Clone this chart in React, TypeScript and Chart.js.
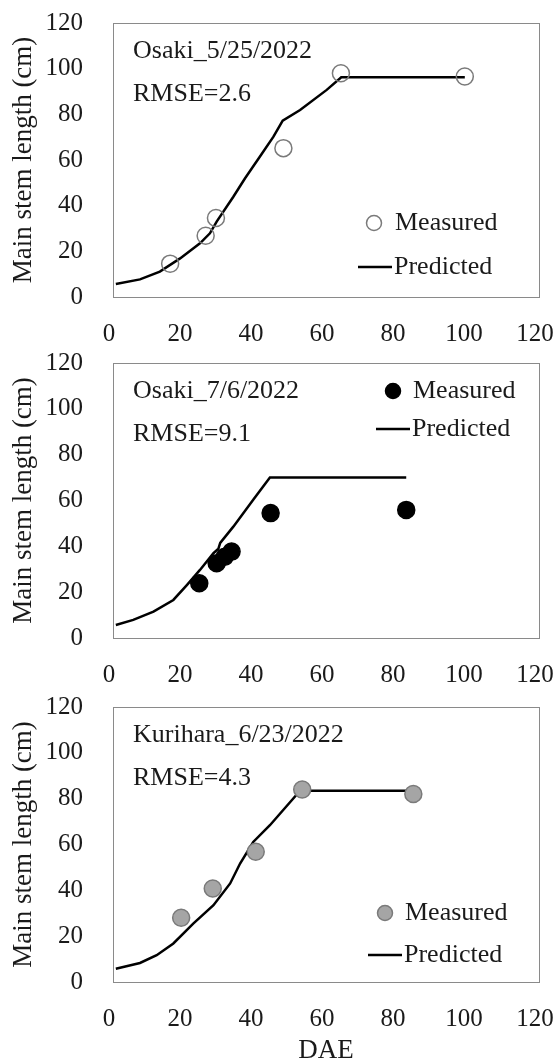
import React, { useEffect, useRef } from "react";
import { Chart, registerables } from "chart.js";

Chart.register(...registerables);

// Panel 1: Osaki_5/25/2022
const p1MeasuredX = [16.1, 26.1, 29.0, 48.0, 64.2, 99.1];
const p1MeasuredY = [14.6, 26.8, 34.6, 65.2, 98.0, 96.6];
const p1PredX = [0.8, 7.6, 13.2, 18.9, 24.5, 27.3, 29.2, 33.9, 37.2, 41.4, 45.2, 47.8, 52.7, 60.2, 64.3, 99.1];
const p1PredY = [5.7, 7.7, 11.1, 16.9, 23.5, 27.9, 33.0, 43.9, 52.0, 61.5, 70.2, 77.2, 81.9, 90.7, 96.2, 96.2];

// Panel 2: Osaki_7/6/2022
const p2MeasuredX = [24.3, 29.2, 31.5, 33.4, 44.4, 82.6];
const p2MeasuredY = [23.9, 32.6, 35.5, 37.7, 54.5, 55.9];
const p2PredX = [0.8, 5.7, 11.4, 17.0, 20.8, 24.5, 28.3, 29.7, 30.2, 33.9, 39.5, 44.2, 82.6];
const p2PredY = [5.7, 7.9, 11.5, 16.6, 23.1, 29.7, 37.0, 39.0, 41.5, 48.6, 60.3, 70.0, 70.0];

// Panel 3: Kurihara_6/23/2022
const p3MeasuredX = [19.2, 28.1, 40.2, 53.3, 84.6];
const p3MeasuredY = [28.0, 40.8, 56.8, 84.0, 82.0];
const p3PredX = [0.8, 7.6, 12.3, 17.0, 22.6, 28.3, 33.0, 35.8, 39.5, 44.2, 52.7, 84.6];
const p3PredY = [5.8, 8.3, 11.7, 16.8, 25.5, 33.5, 43.0, 51.7, 61.1, 68.4, 83.5, 83.5];

const xTicks = [0, 20, 40, 60, 80, 100, 120];
const yTicks = [0, 20, 40, 60, 80, 100, 120];

const titles = ["Osaki_5/25/2022", "Osaki_7/6/2022", "Kurihara_6/23/2022"];
const rmseLabels = ["RMSE=2.6", "RMSE=9.1", "RMSE=4.3"];
const legendLabels = ["Measured", "Predicted"];
const yTitle = "Main stem length (cm)";
const xTitle = "DAE";

const FONT = '"Liberation Serif", "Times New Roman", serif';
const TEXT = "#1a1a1a";

type PanelCfg = {
  top: number;
  height: number;
  boxH: number;
  mx: number[];
  my: number[];
  px: number[];
  py: number[];
  markerFill: string;
  markerStroke: string;
  hollow: boolean;
  title: string;
  rmse: string;
  legMarker: [number, number];
  legText1: number;
  legLine: [number, number, number];
  legText2: number;
  showXTitle: boolean;
};

const panels: PanelCfg[] = [
  {
    top: 0, height: 352, boxH: 274,
    mx: p1MeasuredX, my: p1MeasuredY, px: p1PredX, py: p1PredY,
    markerFill: "rgba(255,255,255,0)", markerStroke: "#7a7a7a", hollow: true,
    title: titles[0], rmse: rmseLabels[0],
    legMarker: [261, 200], legText1: 282, legLine: [245, 279, 244], legText2: 281,
    showXTitle: false,
  },
  {
    top: 340, height: 352, boxH: 275,
    mx: p2MeasuredX, my: p2MeasuredY, px: p2PredX, py: p2PredY,
    markerFill: "#000000", markerStroke: "#000000", hollow: false,
    title: titles[1], rmse: rmseLabels[1],
    legMarker: [280, 28], legText1: 300, legLine: [263, 297, 66], legText2: 299,
    showXTitle: false,
  },
  {
    top: 684, height: 374, boxH: 275,
    mx: p3MeasuredX, my: p3MeasuredY, px: p3PredX, py: p3PredY,
    markerFill: "#a5a5a5", markerStroke: "#7a7a7a", hollow: false,
    title: titles[2], rmse: rmseLabels[2],
    legMarker: [272, 206], legText1: 292, legLine: [255, 289, 248], legText2: 291,
    showXTitle: true,
  },
];

function Panel({ cfg }: { cfg: PanelCfg }) {
  const ref = useRef<HTMLCanvasElement | null>(null);
  useEffect(() => {
    if (!ref.current) return;
    const decor = {
      id: "decor",
      afterDraw(chart: any) {
        const ctx = chart.ctx as CanvasRenderingContext2D;
        const a = chart.chartArea;
        ctx.save();
        // box
        ctx.strokeStyle = "#8a8a8a";
        ctx.lineWidth = 1;
        ctx.strokeRect(Math.round(a.left) + 0.5, Math.round(a.top) + 0.5, Math.round(a.right - a.left), Math.round(a.bottom - a.top));
        // annotations
        ctx.fillStyle = TEXT;
        ctx.font = `26px ${FONT}`;
        ctx.textBaseline = "middle";
        ctx.textAlign = "left";
        ctx.fillText(cfg.title, a.left + 20, a.top + 28);
        ctx.fillText(cfg.rmse, a.left + 20, a.top + 71);
        // legend
        ctx.beginPath();
        ctx.arc(a.left + cfg.legMarker[0], a.top + cfg.legMarker[1], 7.5, 0, Math.PI * 2);
        if (!cfg.hollow) {
          ctx.fillStyle = cfg.markerFill;
          ctx.fill();
        }
        ctx.strokeStyle = cfg.markerStroke;
        ctx.lineWidth = 1.5;
        ctx.stroke();
        ctx.fillStyle = TEXT;
        ctx.fillText(legendLabels[0], a.left + cfg.legText1, a.top + cfg.legMarker[1]);
        ctx.beginPath();
        ctx.moveTo(a.left + cfg.legLine[0], a.top + cfg.legLine[2]);
        ctx.lineTo(a.left + cfg.legLine[1], a.top + cfg.legLine[2]);
        ctx.strokeStyle = "#000";
        ctx.lineWidth = 2.5;
        ctx.stroke();
        ctx.fillText(legendLabels[1], a.left + cfg.legText2, a.top + cfg.legLine[2]);
        // y title
        ctx.save();
        ctx.translate(24, (a.top + a.bottom) / 2);
        ctx.rotate(-Math.PI / 2);
        ctx.textAlign = "center";
        ctx.font = `27px ${FONT}`;
        ctx.fillText(yTitle, 0, 0);
        ctx.restore();
        if (cfg.showXTitle) {
          ctx.textAlign = "center";
          ctx.font = `27px ${FONT}`;
          ctx.fillText(xTitle, (a.left + a.right) / 2, a.bottom + 69);
        }
        ctx.restore();
      },
    };
    const chart = new Chart(ref.current, {
      type: "scatter",
      data: {
        datasets: [
          {
            label: legendLabels[0],
            data: cfg.mx.map((x, i) => ({ x, y: cfg.my[i] })),
            showLine: false,
            pointRadius: 8.5,
            pointBackgroundColor: cfg.markerFill,
            pointBorderColor: cfg.markerStroke,
            pointBorderWidth: 1.5,
          },
          {
            label: legendLabels[1],
            data: cfg.px.map((x, i) => ({ x, y: cfg.py[i] })),
            showLine: true,
            pointRadius: 0,
            borderColor: "#000",
            borderWidth: 2.5,
            tension: 0,
          },
        ],
      },
      options: {
        animation: false,
        responsive: false,
        devicePixelRatio: 1,
        layout: { padding: { top: 23, right: 19, left: 0, bottom: 0 } },
        plugins: { legend: { display: false }, tooltip: { enabled: false } },
        scales: {
          x: {
            type: "linear",
            min: 0,
            max: 120,
            afterFit: (s: any) => {
              s.height = cfg.height - 23 - cfg.boxH;
              s.paddingLeft = 0;
              s.paddingRight = 0;
            },
            afterBuildTicks: (s: any) => { s.ticks = xTicks.map((v) => ({ value: v })); },
            grid: { display: false, drawTicks: false },
            border: { display: false },
            ticks: { color: TEXT, font: { family: FONT, size: 25 }, padding: 22, maxRotation: 0, labelOffset: -4 },
          },
          y: {
            type: "linear",
            min: 0,
            max: 120,
            afterFit: (s: any) => {
              s.width = 113;
              s.paddingTop = 0;
              s.paddingBottom = 0;
            },
            afterBuildTicks: (s: any) => { s.ticks = yTicks.map((v) => ({ value: v })); },
            grid: { display: false, drawTicks: false },
            border: { display: false },
            ticks: { color: TEXT, font: { family: FONT, size: 25 }, padding: 30 },
          },
        },
      },
      plugins: [decor],
    } as any);
    return () => chart.destroy();
  }, [cfg]);
  return (
    <canvas
      ref={ref}
      width={558}
      height={cfg.height}
      style={{ position: "absolute", left: 0, top: cfg.top, width: 558, height: cfg.height }}
    />
  );
}

export default function App() {
  return (
    <div style={{ position: "absolute", left: 0, top: 0, width: 558, height: 1058, background: "#fff", overflow: "hidden" }}>
      {panels.map((p, i) => (
        <Panel key={i} cfg={p} />
      ))}
    </div>
  );
}
